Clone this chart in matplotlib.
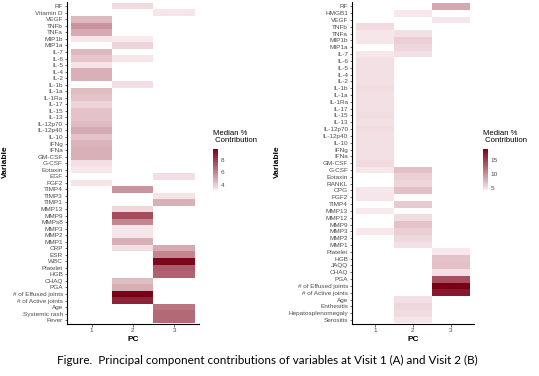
import numpy as np
import matplotlib
matplotlib.use("Agg")
import matplotlib.pyplot as plt
from matplotlib.colors import LinearSegmentedColormap

nan = np.nan

# Visit 1 (A)
vars_a = ["RF", "Vitamin D", "VEGF", "TNFb", "TNFa", "MIP1b", "MIP1a", "IL-7", "IL-6", "IL-5",
          "IL-4", "IL-2", "IL-1b", "IL-1a", "IL-1Ra", "IL-17", "IL-15", "IL-13", "IL-12p70",
          "IL-12p40", "IL-10", "IFNg", "IFNa", "GM-CSF", "G-CSF", "Eotaxin", "EGF", "FGF2",
          "TIMP4", "TIMP3", "TIMP1", "MMP13", "MMP9", "MMPs8", "MMP3", "MMP2", "MMP1", "CRP",
          "ESR", "WBC", "Platelet", "HGB", "CHAQ", "PGA", "# of Effused joints",
          "# of Active joints", "Age", "Systemic rash", "Fever"]
pc1_a = [nan, nan, 4.6, 5.6, 5.0, 3.3, nan, 4.6, 4.2, 3.4,
         4.8, 4.8, nan, 4.5, 4.3, 3.8, 4.3, 4.3, 4.5,
         5.0, 4.3, 4.7, 4.8, 4.8, 3.5, 3.3, nan, 3.4,
         nan, nan, nan, nan, nan, nan, nan, nan, nan, nan,
         nan, nan, nan, nan, nan, nan, nan,
         nan, nan, nan, nan]
pc2_a = [3.6, nan, nan, nan, nan, 3.2, 3.8, nan, 3.3, nan,
         nan, nan, 3.5, nan, nan, nan, nan, nan, nan,
         nan, nan, nan, nan, nan, nan, nan, nan, nan,
         5.6, nan, nan, 3.7, 7.6, 6.0, 3.3, 3.3, 4.8, 3.5,
         nan, nan, nan, nan, 4.5, 4.9, 9.8,
         8.8, nan, nan, nan]
pc3_a = [nan, 3.3, nan, nan, nan, nan, nan, nan, nan, nan,
         nan, nan, nan, nan, nan, nan, nan, nan, nan,
         nan, nan, nan, nan, nan, nan, nan, 3.5, nan,
         nan, 3.4, 4.8, nan, nan, nan, nan, nan, nan, 5.0,
         6.0, 9.6, 7.2, 7.0, nan, nan, nan,
         nan, 6.5, 6.8, 6.8]

# Visit 2 (B)
vars_b = ["RF", "HMGB1", "VEGF", "TNFb", "TNFa", "MIP1b", "MIP1a", "IL-7", "IL-6", "IL-5",
          "IL-4", "IL-2", "IL-1b", "IL-1a", "IL-1Ra", "IL-17", "IL-15", "IL-13", "IL-12p70",
          "IL-12p40", "IL-10", "IFNg", "IFNa", "GM-CSF", "G-CSF", "Eotaxin", "RANKL", "OPG",
          "FGF2", "TIMP4", "MMP13", "MMP12", "MMP9", "MMP3", "MMP2", "MMP1", "Platelet", "HGB",
          "JAQQ", "CHAQ", "PGA", "# of Effused joints", "# of Active joints", "Age",
          "Enthesitis", "Hepatosplenomegaly", "Serositis"]
pc1_b = [nan, nan, nan, 5.3, 4.6, 4.6, nan, 4.6, 5.0, 5.0,
         5.0, 5.0, 5.2, 5.0, 5.0, 5.0, 5.2, 5.0, 5.2,
         5.0, 5.0, 5.0, 5.0, 5.3, 4.6, nan, nan, 4.6,
         4.6, nan, 4.4, nan, nan, 4.5, nan, nan, nan, nan,
         nan, nan, nan, nan, nan, nan,
         nan, nan, nan]
pc2_b = [nan, 4.5, nan, nan, 5.0, 6.0, 5.6, 5.0, nan, nan,
         nan, nan, nan, nan, nan, nan, nan, nan, nan,
         nan, nan, nan, nan, nan, 7.0, 6.0, 5.6, 7.0,
         nan, 6.3, nan, 5.2, 6.8, 6.0, 5.5, 5.0, nan, nan,
         nan, nan, nan, nan, nan, 5.0,
         5.5, 5.2, 4.6]
pc3_b = [8.5, nan, 4.6, nan, nan, nan, nan, nan, nan, nan,
         nan, nan, nan, nan, nan, nan, nan, nan, nan,
         nan, nan, nan, nan, nan, nan, nan, nan, nan,
         nan, nan, nan, nan, nan, nan, nan, nan, 4.5, 6.8,
         7.0, 5.0, 14.0, 19.0, 17.5, nan,
         nan, nan, nan]

pcs = ["1", "2", "3"]

cmap = LinearSegmentedColormap.from_list("rd", ["#f8e9ec", "#7a0016"])

fig = plt.figure(figsize=(5.39, 3.76), dpi=100)
tick_font = "Liberation Sans"


def panel(rect, cbrect, names, cols, ticks):
    ax = fig.add_axes(rect)
    data = np.ma.masked_invalid(np.array(cols).T)
    n = len(names)
    xe = np.arange(len(pcs) + 1) + 0.5
    ye = np.arange(n + 1) + 0.5
    # first variable at the top
    mesh = ax.pcolormesh(xe, ye, data[::-1], cmap=cmap,
                         vmin=np.nanmin(cols), vmax=np.nanmax(cols))
    ax.set_xlim(0.4, 3.6)
    ax.set_ylim(0.4, n + 0.6)
    ax.set_xticks([1, 2, 3])
    ax.set_xticklabels(pcs)
    ax.set_yticks(np.arange(1, n + 1))
    ax.set_yticklabels(names[::-1])
    for lab in ax.get_yticklabels() + ax.get_xticklabels():
        lab.set_fontfamily(tick_font)
        lab.set_fontsize(4.6)
        lab.set_color("#4d4d4d")
    ax.tick_params(length=1.8, width=0.5, color="#333333", pad=1)
    for s in ["top", "right"]:
        ax.spines[s].set_visible(False)
    for s in ["left", "bottom"]:
        ax.spines[s].set_linewidth(0.8)
    ax.set_xlabel("PC", fontsize=6, fontweight="bold", family=tick_font, labelpad=2)

    cax = fig.add_axes(cbrect)
    cb = fig.colorbar(mesh, cax=cax, ticks=ticks)
    cb.outline.set_visible(False)
    cax.tick_params(length=0, labelsize=4.6, labelcolor="#4d4d4d", pad=2)
    for lab in cax.get_yticklabels():
        lab.set_fontfamily(tick_font)
    cax.text(0, 1.12, "Median %\n Contribution", transform=cax.transAxes, ha="left",
             va="bottom", fontsize=5.6, family=tick_font, linespacing=1.0)
    return ax


panel([0.124, 0.138, 0.245, 0.856], [0.395, 0.495, 0.0095, 0.109],
      vars_a, [pc1_a, pc2_a, pc3_a], [4, 6, 8])
panel([0.653, 0.138, 0.226, 0.856], [0.896, 0.495, 0.0095, 0.109],
      vars_b, [pc1_b, pc2_b, pc3_b], [5, 10, 15])

fig.text(0.010, 0.57, "Variable", rotation=90, fontsize=6, fontweight="bold",
         family=tick_font, ha="center", va="center")
fig.text(0.514, 0.57, "Variable", rotation=90, fontsize=6, fontweight="bold",
         family=tick_font, ha="center", va="center")

fig.text(0.106, 0.04, "Figure.  Principal component contributions of variables at Visit 1 (A) and Visit 2 (B)",
         fontsize=8.4, family="Lato", ha="left", va="center")

fig.savefig("out.png", dpi=100)
